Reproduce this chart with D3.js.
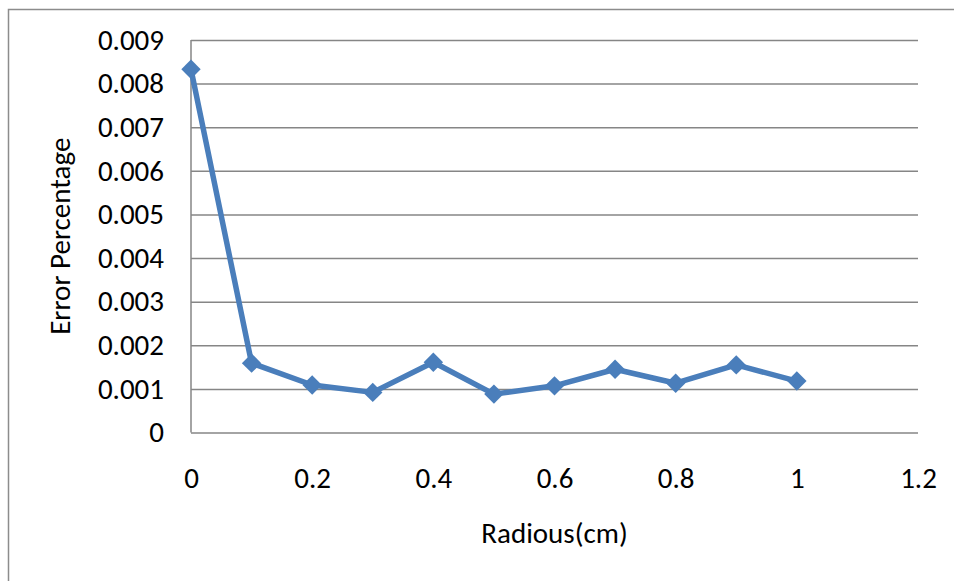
<!DOCTYPE html>
<html>
<head>
<meta charset="utf-8">
<script src="https://cdn.jsdelivr.net/npm/d3@7"></script>
<style>
  html, body { margin: 0; padding: 0; background: #fff; }
  svg { display: block; }
  text { font-family: Carlito, Lato, "Open Sans", sans-serif; fill: #000; }
</style>
</head>
<body>
<svg id="chart" width="954" height="581"></svg>
<script>
// Radius (cm) against error percentage
const radius = [0, 0.1, 0.2, 0.3, 0.4, 0.5, 0.6, 0.7, 0.8, 0.9, 1.0];
const errorPct = [0.00833, 0.00159, 0.00109, 0.00092, 0.00161, 0.00088, 0.00107, 0.00145, 0.00113, 0.00155, 0.00118];
const xTicks = [0, 0.2, 0.4, 0.6, 0.8, 1, 1.2];
const yTicks = [0, 0.001, 0.002, 0.003, 0.004, 0.005, 0.006, 0.007, 0.008, 0.009];

const svg = d3.select("#chart");
const plot = { left: 191, right: 918, top: 40, bottom: 432.5 };
const fontSize = "29px";

const x = d3.scaleLinear().domain([0, 1.2]).range([plot.left, plot.right]);
const y = d3.scaleLinear().domain([0, 0.009]).range([plot.bottom, plot.top]);

// outer chart frame
svg.append("rect")
  .attr("x", 8.5).attr("y", 9.5)
  .attr("width", 960).attr("height", 600)
  .attr("fill", "none").attr("stroke", "#8c8c8c").attr("stroke-width", 1.5);

// horizontal gridlines
svg.append("g")
  .attr("transform", `translate(${plot.left},0)`)
  .call(d3.axisRight(y).tickValues(yTicks).tickSize(plot.right - plot.left).tickFormat(""))
  .call(g => g.select(".domain").remove())
  .call(g => g.selectAll("line").attr("stroke", "#868686").attr("stroke-width", 1.5));

// vertical axis line
svg.append("line")
  .attr("x1", plot.left).attr("x2", plot.left)
  .attr("y1", plot.top).attr("y2", plot.bottom)
  .attr("stroke", "#868686").attr("stroke-width", 1.5);

// y tick labels
svg.append("g")
  .attr("transform", `translate(${plot.left},0)`)
  .call(d3.axisLeft(y).tickValues(yTicks).tickSize(0).tickPadding(27)
    .tickFormat(d => d === 0 ? "0" : d3.format(".3f")(d)))
  .call(g => g.select(".domain").remove())
  .call(g => g.selectAll("text").style("font-size", fontSize).attr("fill", "#000")
    .style("font-family", "Carlito, Lato, 'Open Sans', sans-serif"));

// x tick labels
svg.append("g")
  .attr("transform", `translate(0,${plot.bottom})`)
  .call(d3.axisBottom(x).tickValues(xTicks).tickSize(0).tickPadding(35)
    .tickFormat(d => d3.format("")(+d.toFixed(1))))
  .call(g => g.select(".domain").remove())
  .call(g => g.selectAll("text").style("font-size", fontSize).attr("fill", "#000")
    .style("font-family", "Carlito, Lato, 'Open Sans', sans-serif"));

// axis titles
svg.append("text")
  .attr("x", (plot.left + plot.right) / 2).attr("y", 543)
  .attr("text-anchor", "middle")
  .style("font-size", fontSize)
  .text("Radious(cm)");

svg.append("text")
  .attr("transform", `translate(70,${(plot.top + plot.bottom) / 2}) rotate(-90)`)
  .attr("text-anchor", "middle")
  .style("font-size", fontSize)
  .text("Error Percentage");

// data line
const pts = radius.map((r, i) => [r, errorPct[i]]);
svg.append("path")
  .datum(pts)
  .attr("fill", "none")
  .attr("stroke", "#4a7ebb")
  .attr("stroke-width", 5.5)
  .attr("stroke-linejoin", "round")
  .attr("d", d3.line().x(d => x(d[0])).y(d => y(d[1])));

// diamond markers
svg.append("g").selectAll("path")
  .data(pts)
  .join("path")
  .attr("transform", d => `translate(${x(d[0])},${y(d[1])})`)
  .attr("d", d3.symbol().type(d3.symbolDiamond2).size(240)())
  .attr("fill", "#4a7ebb");
</script>
</body>
</html>
